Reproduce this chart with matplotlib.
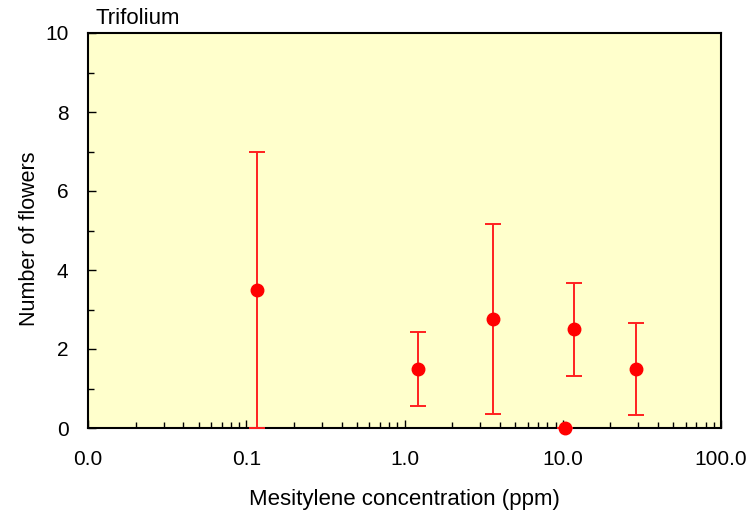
import matplotlib
matplotlib.use("Agg")
import matplotlib.pyplot as plt
from matplotlib.ticker import FixedLocator, LogLocator, NullFormatter, MultipleLocator

conc = [0.117, 1.22, 3.62, 10.3, 11.8, 29.0]
flowers = [3.5, 1.5, 2.76, 0.0, 2.5, 1.5]
err = [3.5, 0.94, 2.41, 0.0, 1.18, 1.17]
xtick_vals = [0.01, 0.1, 1, 10, 100]
xtick_labels = ["0.0", "0.1", "1.0", "10.0", "100.0"]
ytick_vals = [0, 2, 4, 6, 8, 10]

plt.rcParams['font.family'] = ['Liberation Sans', 'DejaVu Sans']
fig = plt.figure(figsize=(7.53, 5.18), dpi=100)
ax = fig.add_axes([88/753, 90/518, 633/753, 395/518])
ax.set_facecolor('#FFFFCC')
ax.set_xscale('log')
ax.set_xlim(0.01, 100)
ax.set_ylim(0, 10)

ax.errorbar(conc, flowers, yerr=err, fmt='o', color='#FF0000', ecolor='#FF2020',
            markersize=9, elinewidth=1.4, capsize=5.5, capthick=1.4, clip_on=False, zorder=3)

ax.xaxis.set_major_locator(FixedLocator(xtick_vals))
ax.set_xticklabels(xtick_labels)
ax.xaxis.set_minor_locator(LogLocator(base=10, subs=range(2, 10)))
ax.xaxis.set_minor_formatter(NullFormatter())
ax.yaxis.set_major_locator(FixedLocator(ytick_vals))
ax.yaxis.set_minor_locator(MultipleLocator(1))

ax.tick_params(which='both', direction='in', top=False, right=False, labelsize=15, colors='black')
ax.tick_params(which='major', length=6, width=1)
ax.tick_params(which='minor', length=4, width=1)
ax.tick_params(axis='x', pad=16)
ax.tick_params(axis='y', pad=14)
for s in ax.spines.values():
    s.set_linewidth(1.5)
    s.set_color('black')

ax.set_xlabel('Mesitylene concentration (ppm)', fontsize=16, labelpad=14)
ax.set_ylabel('Number of flowers', fontsize=15.5)
ax.yaxis.set_label_coords(-0.076, 0.478)
fig.text(96/753, 1 - 19/518, 'Trifolium', fontsize=16, va='center', ha='left')

fig.savefig('out.png', dpi=100)
